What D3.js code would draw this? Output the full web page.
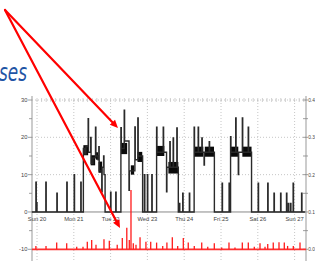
<!DOCTYPE html>
<html><head><meta charset="utf-8">
<script src="https://cdn.jsdelivr.net/npm/d3@7"></script>
<style>body{margin:0;background:#fff;overflow:hidden}svg{display:block}</style>
</head><body><svg id="c" width="315" height="261"></svg>
<script>
const dayLabels = ["Sun 20","Mon 21","Tue 22","Wed 23","Thu 24","Fri 25","Sat 26","Sun 27"];
const leftTicks = [-10,0,10,20,30];
const leftMinor = [-5,5,15,25];
const rightTicks = [0,0.1,0.2,0.3,0.4];
const rightMinor = [0.05,0.15,0.25,0.35];
const titleFragment = "ses";

// black step series: [day, value]
const activity = [
 [-0.14,0],[-0.03,8],[-0.02,2.5],[0.0,0],
 [0.24,8],[0.25,0],[0.54,5],[0.55,0],[0.81,8],[0.82,0],[1.01,10],[1.02,0],[1.19,8],[1.20,0],
 [1.26,17],[1.30,15.5],[1.33,17.5],[1.39,25],[1.40,16],[1.46,20],[1.47,13],[1.52,14.5],[1.59,22.7],[1.60,15],
 [1.66,14],[1.68,17.5],[1.69,11],[1.76,5.4],[1.77,12],[1.81,15],[1.82,10],[1.85,0],
 [2.00,5.3],[2.01,0],[2.14,5.3],[2.15,0],
 [2.28,22.6],[2.29,17],[2.37,27.3],[2.38,19],[2.50,5.8],[2.51,11],[2.66,22.8],[2.67,14],[2.74,25.2],[2.75,15],[2.87,0],
 [2.92,10],[2.93,0],[3.00,10],[3.01,0],[3.12,10],[3.13,0],
 [3.25,22.7],[3.26,16],[3.43,22.7],[3.44,16],[3.52,5.4],[3.53,12],[3.61,18.8],[3.62,12],[3.70,19.8],[3.71,12],[3.80,22.5],[3.81,12],[3.84,0],
 [3.86,2.3],[3.88,0],[3.96,5],[3.97,0],[4.14,5],[4.15,0],
 [4.27,22.7],[4.28,16],[4.38,22.7],[4.39,16],[4.48,19.8],[4.49,16],[4.54,12.6],[4.55,16],[4.68,18.8],[4.69,16],[4.82,0],
 [5.03,7.7],[5.04,0],[5.22,7.7],[5.23,0],
 [5.26,20.2],[5.27,16],[5.40,25.2],[5.41,16],[5.47,10],[5.48,16],[5.58,25.2],[5.59,16],[5.74,22.7],[5.75,16],[5.83,0],
 [6.01,7.7],[6.02,0],[6.27,7.7],[6.28,0],[6.44,5],[6.45,0],[6.62,5],[6.63,0],[6.78,5],[6.79,0],
 [6.83,2.3],[6.84,0],[6.89,2.3],[6.90,0],[6.96,7.7],[6.97,0],[7.19,5],[7.20,0],[7.28,0]
];
// rapid oscillation bands: [d0, d1, lo, hi]
const bands = [
 [1.26,1.39,15.2,17.9],[1.46,1.58,12.5,15.2],[1.60,1.66,14,16],[1.67,1.77,10.5,13.5],
 [2.28,2.45,15.5,18.5],[2.55,2.64,10,12.5],[2.73,2.86,13.4,16.1],
 [3.25,3.46,15,17.7],[3.57,3.84,10.3,13.4],
 [4.27,4.52,14.8,17.5],[4.56,4.81,14.8,17.5],
 [5.26,5.47,14.8,17.5],[5.58,5.83,14.8,17.5]
];
// red series spikes on right axis: [day, value]
const redSpikes = [
 [-0.03,0.009],[0.245,0.009],[0.535,0.018],[0.807,0.016],[1.079,0.007],[1.25,0.007],[1.367,0.02],[1.486,0.025],
 [1.603,0.012],[1.82,0.027],[1.965,0.023],[2.18,0.012],[2.318,0.03],[2.44,0.058],[2.508,0.025],[2.554,0.159],
 [2.617,0.016],[2.69,0.012],[2.80,0.032],[2.96,0.02],[3.09,0.02],[3.25,0.018],[3.416,0.009],[3.53,0.018],
 [3.677,0.032],[3.823,0.009],[3.976,0.03],[4.11,0.018],[4.274,0.009],[4.476,0.018],[4.64,0.007],[4.818,0.016],
 [5.02,0.005],[5.217,0.018],[5.38,0.005],[5.579,0.018],[5.742,0.018],[5.905,0.007],[6.06,0.016],[6.196,0.007],
 [6.27,0.014],[6.42,0.018],[6.576,0.019],[6.72,0.018],[6.81,0.009],[6.965,0.009],[7.147,0.018]
];
// arrow tips (upper in left-axis units, lower in right-axis units)
const arrowUpper = [2.20, 22.5];
const arrowLower = [2.255, 0.057];

const svg = d3.select("#c");
const x = d3.scaleLinear().domain([0,7]).range([37,294.6]);
const y = d3.scaleLinear().domain([-10,30]).range([249.3,100]);
const yR = d3.scaleLinear().domain([0,0.4]).range([249.3,100]);
const X0 = 32, X1 = 306, YT = 96, YB = 261;
const font = "Liberation Sans, Arial, sans-serif";

// grid
const g = svg.append("g");
g.selectAll(".vg").data(d3.range(dayLabels.length)).join("line")
 .attr("x1",d=>x(d)).attr("x2",d=>x(d)).attr("y1",100).attr("y2",YB)
 .attr("stroke","#b8b8b8").attr("stroke-width",0.8).attr("stroke-dasharray","1,2");
g.selectAll(".hg").data([10,20,30]).join("line")
 .attr("x1",X0).attr("x2",X1).attr("y1",d=>y(d)).attr("y2",d=>y(d))
 .attr("stroke","#b8b8b8").attr("stroke-width",0.8).attr("stroke-dasharray","1,2");
// top hour ticks
g.selectAll(".ht").data(d3.range(-1,59).map(i=>i*0.125).filter(d=>x(d)>X0+1&&x(d)<X1-1)).join("line")
 .attr("x1",d=>x(d)).attr("x2",d=>x(d)).attr("y1",98).attr("y2",102)
 .attr("stroke","#c4c4c4").attr("stroke-width",0.8);

// axes lines
svg.append("line").attr("x1",X0).attr("x2",X0).attr("y1",YT).attr("y2",YB).attr("stroke","#999");
svg.append("line").attr("x1",X1).attr("x2",X1).attr("y1",YT).attr("y2",YB).attr("stroke","#999");
svg.append("line").attr("x1",X0).attr("x2",X1).attr("y1",y(0)).attr("y2",y(0)).attr("stroke","#888");

// left ticks
svg.selectAll(".lt").data(leftTicks.concat(leftMinor)).join("line")
 .attr("x1",d=>leftMinor.includes(d)?29:28).attr("x2",X0).attr("y1",d=>y(d)).attr("y2",d=>y(d))
 .attr("stroke","#888").attr("stroke-width",0.8);
svg.selectAll(".ll").data(leftTicks).join("text")
 .attr("x",27.5).attr("y",d=>y(d)+2).attr("text-anchor","end")
 .attr("font-family",font).attr("font-size",5.8).attr("fill","#444").text(d=>d);
// right ticks
svg.selectAll(".rt").data(rightTicks.concat(rightMinor)).join("line")
 .attr("x1",303).attr("x2",308).attr("y1",d=>yR(d)).attr("y2",d=>yR(d))
 .attr("stroke","#888").attr("stroke-width",0.8);
svg.selectAll(".rl").data(rightTicks).join("text")
 .attr("x",308.2).attr("y",d=>yR(d)+2)
 .attr("font-family",font).attr("font-size",4.8).attr("fill","#444").text(d=>d.toFixed(1));
// day labels
svg.selectAll(".dl").data(dayLabels).join("text")
 .attr("x",(d,i)=>x(i)).attr("y",221).attr("text-anchor","middle")
 .attr("font-family",font).attr("font-size",5.8).attr("fill","#444").text(d=>d);

// bands
svg.selectAll(".band").data(bands).join("rect")
 .attr("x",d=>x(d[0])).attr("width",d=>x(d[1])-x(d[0]))
 .attr("y",d=>y(d[3])).attr("height",d=>y(d[2])-y(d[3])).attr("fill","#0a0a0a");
// black step line
svg.append("path").datum(activity)
 .attr("d",d3.line().x(d=>x(d[0])).y(d=>y(d[1])).curve(d3.curveStepAfter))
 .attr("fill","none").attr("stroke","#2a2a2a").attr("stroke-width",1.4);

// red series
svg.append("line").attr("x1",X0).attr("x2",X1).attr("y1",yR(0)).attr("y2",yR(0))
 .attr("stroke","#ff3030").attr("stroke-width",1.8);
svg.selectAll(".rs").data(redSpikes).join("line")
 .attr("x1",d=>x(d[0])).attr("x2",d=>x(d[0])).attr("y1",yR(0)).attr("y2",d=>yR(d[1]))
 .attr("stroke","#ff1a1a").attr("stroke-width",1.3);

// title fragment
svg.append("text").attr("x",27).attr("y",81).attr("text-anchor","end")
 .attr("font-family","DejaVu Sans, sans-serif").attr("font-style","italic").attr("font-size",25)
 .attr("fill","#1f55a5").attr("textLength",28).attr("lengthAdjust","spacingAndGlyphs").text(titleFragment);

// arrows
const start = [5,10];
function arrow(tx,ty){
  const dx=tx-start[0], dy=ty-start[1], L=Math.hypot(dx,dy), ux=dx/L, uy=dy/L;
  const hl=8, hw=3.6;
  const bx=tx-ux*hl, by=ty-uy*hl;
  svg.append("line").attr("x1",start[0]).attr("y1",start[1]).attr("x2",bx).attr("y2",by)
   .attr("stroke","#ff0000").attr("stroke-width",2.2).attr("stroke-linecap","round");
  svg.append("path").attr("d",`M${tx},${ty}L${bx-uy*hw},${by+ux*hw}L${bx+uy*hw},${by-ux*hw}Z`).attr("fill","#ff0000");
}
arrow(x(arrowUpper[0]), y(arrowUpper[1]));
arrow(x(arrowLower[0]), yR(arrowLower[1]));
</script></body></html>
